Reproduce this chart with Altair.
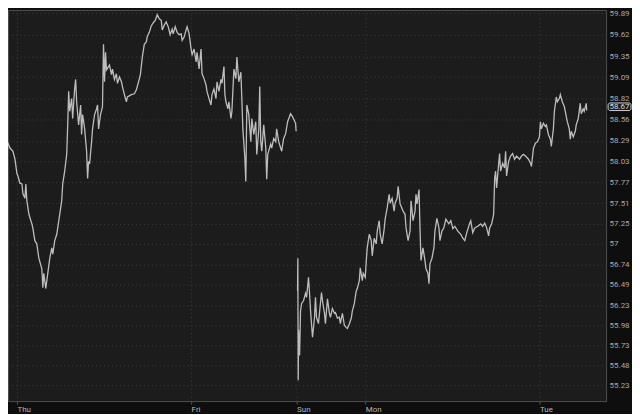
import altair as alt
import pandas as pd

# Session hours (Thu 00:00 = 0, weekend gap removed) and prices
thu_fri_hours = [-2.33, -1.92, -1.65, -1.37, -1.23, -0.96, -0.55, -0.27, 0.00, 0.14, 0.41, 0.69, 0.82, 1.10, 1.23, 1.37,
                 1.65, 2.06, 2.19, 2.47, 2.74, 3.02, 3.43, 3.57, 3.70, 3.98, 4.25, 4.53, 4.80, 4.94, 5.21, 5.49, 5.62,
                 5.90, 6.17, 6.31, 6.58, 6.86, 6.99, 7.13, 7.27, 7.54, 7.68, 7.95, 8.09, 8.23, 8.50, 8.78, 8.91, 9.05,
                 9.33, 9.60, 9.74, 9.87, 10.01, 10.29, 10.42, 10.70, 10.97, 11.11, 11.25, 11.52, 11.79, 11.93, 12.07,
                 12.21, 12.34, 12.75, 13.03, 13.17, 13.44, 13.71, 13.85, 14.13, 14.40, 14.54, 14.81, 15.09, 15.22,
                 15.77, 16.18, 16.46, 16.73, 17.01, 17.28, 17.55, 17.83, 17.97, 18.24, 18.51, 18.79, 19.06, 19.34,
                 19.61, 19.89, 20.02, 20.30, 20.57, 20.85, 21.12, 21.39, 21.53, 21.81, 22.08, 22.35, 22.63, 22.77,
                 23.04, 23.31, 23.45, 23.73, 24.00, 24.14, 24.41, 24.69, 24.82, 25.10, 25.37, 25.51, 25.78, 26.06,
                 26.19, 26.47, 26.74, 26.88, 27.15, 27.43, 27.57, 27.84, 28.11, 28.25, 28.53, 28.66, 28.80, 29.07,
                 29.21, 29.49, 29.62, 29.90, 30.17, 30.31, 30.58, 30.86, 30.99, 31.13, 31.41, 31.54, 31.68, 31.95,
                 32.23, 32.37, 32.64, 32.91, 33.05, 33.33, 33.46, 33.60, 33.74, 34.01, 34.29, 34.42, 34.56, 34.97,
                 35.11, 35.38, 35.66, 35.79, 36.07, 36.34, 36.48, 36.75, 37.03, 37.30, 37.71, 37.99, 38.40, 38.47]
thu_fri_prices = [58.16, 58.20, 58.30, 58.22, 58.26, 58.20, 58.16, 58.06, 57.88, 57.85, 57.76, 57.75, 57.63, 57.57,
                  57.75, 57.54, 57.37, 57.25, 57.20, 57.04, 57.00, 56.82, 56.69, 56.45, 56.63, 56.44, 56.63, 56.82,
                  56.95, 56.87, 57.04, 57.12, 57.20, 57.37, 57.54, 57.75, 57.91, 58.12, 58.47, 58.91, 58.66, 58.82,
                  58.57, 58.94, 59.06, 58.78, 58.49, 58.74, 58.37, 58.62, 58.44, 58.16, 57.82, 58.03, 58.00, 58.28,
                  58.44, 58.62, 58.69, 58.74, 58.44, 58.62, 58.72, 59.50, 59.03, 59.40, 59.18, 59.24, 59.12, 59.19,
                  59.06, 59.13, 59.01, 59.09, 59.03, 58.97, 58.87, 58.78, 58.84, 58.87, 58.88, 58.93, 59.02, 59.12,
                  59.34, 59.50, 59.53, 59.60, 59.65, 59.73, 59.77, 59.80, 59.87, 59.82, 59.80, 59.68, 59.74, 59.78,
                  59.72, 59.62, 59.69, 59.63, 59.72, 59.65, 59.62, 59.63, 59.55, 59.59, 59.68, 59.72, 59.63, 59.44,
                  59.37, 59.44, 59.28, 59.40, 59.19, 59.44, 59.13, 59.07, 58.99, 58.91, 58.82, 58.74, 58.87, 58.94,
                  58.82, 59.03, 58.91, 59.06, 59.01, 59.22, 58.87, 58.78, 58.69, 58.78, 58.57, 58.66, 59.19, 59.07,
                  59.34, 59.03, 59.15, 58.82, 58.44, 58.07, 57.78, 58.74, 58.62, 58.28, 58.57, 58.37, 58.53, 58.12,
                  58.44, 58.97, 58.28, 58.16, 58.49, 58.20, 57.81, 58.12, 58.25, 58.20, 58.32, 58.28, 58.44, 58.28,
                  58.20, 58.16, 58.32, 58.38, 58.53, 58.63, 58.59, 58.51, 58.41]

sun_tue_hours = [38.67, 38.71, 38.76, 38.81, 38.95, 39.08, 39.22, 39.50, 39.77, 39.91, 40.18, 40.32, 40.46, 40.73,
                 41.01, 41.14, 41.28, 41.55, 41.69, 41.97, 42.10, 42.38, 42.51, 42.79, 43.06, 43.20, 43.47, 43.75,
                 43.89, 44.16, 44.43, 44.57, 44.85, 45.12, 45.39, 45.53, 45.81, 46.08, 46.22, 46.49, 46.76, 46.90,
                 47.18, 47.31, 47.59, 47.72, 48.00, 48.14, 48.27, 48.55, 48.82, 48.96, 49.23, 49.51, 49.65, 49.92,
                 50.06, 50.33, 50.61, 50.74, 51.02, 51.29, 51.43, 51.70, 51.98, 52.11, 52.39, 52.53, 52.80, 52.94,
                 53.21, 53.48, 53.62, 53.90, 54.17, 54.31, 54.58, 54.86, 54.99, 55.13, 55.41, 55.54, 55.68, 55.95,
                 56.23, 56.36, 56.64, 56.78, 56.91, 57.19, 57.46, 57.60, 57.87, 58.15, 58.29, 58.56, 58.83, 59.11,
                 59.52, 59.79, 60.07, 60.34, 60.75, 61.16, 61.44, 61.71, 61.99, 62.40, 62.54, 62.81, 63.09, 63.50,
                 63.91, 64.18, 64.46, 64.73, 65.00, 65.14, 65.42, 65.69, 65.83, 65.96, 66.10, 66.38, 66.51, 66.65,
                 66.93, 67.20, 67.34, 67.47, 67.75, 68.02, 68.30, 68.57, 68.85, 69.26, 69.53, 69.81, 70.08, 70.49,
                 70.77, 70.90, 71.18, 71.45, 71.73, 72.00, 72.14, 72.27, 72.55, 72.82, 72.96, 73.23, 73.51, 73.64,
                 73.92, 74.06, 74.33, 74.47, 74.74, 74.88, 75.15, 75.43, 75.56, 75.84, 76.11, 76.25, 76.39, 76.66,
                 76.94, 77.07, 77.35, 77.62, 77.76, 78.03, 78.17, 78.45, 78.51]
sun_tue_prices = [56.41, 56.82, 55.29, 55.92, 55.60, 56.16, 56.25, 56.29, 56.38, 56.33, 56.58, 56.38, 56.16, 55.83,
                  56.08, 56.33, 56.08, 56.00, 56.13, 56.39, 56.29, 56.13, 56.00, 56.31, 56.13, 56.08, 56.19, 56.13,
                  56.14, 56.07, 56.08, 56.00, 56.13, 55.98, 55.95, 55.94, 56.00, 56.07, 56.16, 56.25, 56.41, 56.44,
                  56.54, 56.70, 56.54, 56.63, 56.58, 56.79, 56.95, 57.12, 57.04, 56.85, 57.07, 57.00, 57.16, 57.29,
                  57.12, 57.00, 57.19, 57.31, 57.45, 57.62, 57.51, 57.57, 57.41, 57.51, 57.57, 57.72, 57.50, 57.47,
                  57.41, 57.37, 57.20, 57.04, 57.16, 57.54, 57.29, 57.41, 57.62, 57.50, 57.68, 57.20, 56.79, 56.95,
                  56.79, 56.69, 56.63, 56.50, 56.75, 56.82, 56.95, 57.16, 57.32, 57.20, 57.04, 57.16, 57.20, 57.31,
                  57.25, 57.29, 57.19, 57.22, 57.16, 57.12, 57.07, 57.04, 57.14, 57.26, 57.29, 57.14, 57.20, 57.22,
                  57.25, 57.22, 57.26, 57.20, 57.10, 57.20, 57.25, 57.37, 57.82, 57.91, 57.70, 58.00, 58.13, 57.91,
                  58.01, 57.95, 58.16, 57.85, 58.03, 58.10, 58.13, 58.06, 58.10, 58.06, 58.10, 58.12, 58.10, 58.06,
                  58.01, 57.97, 58.20, 58.26, 58.28, 58.34, 58.53, 58.44, 58.51, 58.47, 58.49, 58.37, 58.31, 58.22,
                  58.44, 58.66, 58.84, 58.78, 58.82, 58.87, 58.78, 58.72, 58.66, 58.53, 58.44, 58.31, 58.41, 58.34,
                  58.41, 58.49, 58.57, 58.76, 58.63, 58.69, 58.66, 58.76, 58.67]

price_ticks = [55.23, 55.48, 55.73, 55.98, 56.23, 56.49, 56.74, 57.00, 57.25, 57.51, 57.77, 58.03,
               58.29, 58.56, 58.82, 59.09, 59.35, 59.62, 59.89]
day_ticks = [0, 24, 38.54, 48, 72]
day_names = ["Thu", "Fri", "Sun", "Mon", "Tue"]
last_price = [58.67]

W, H = 601, 393
x_domain = [-1.23, 81.19]
y_domain = [55.03, 59.93]

df = pd.concat([
    pd.DataFrame({"t": thu_fri_hours, "price": thu_fri_prices, "seg": "A"}),
    pd.DataFrame({"t": sun_tue_hours, "price": sun_tue_prices, "seg": "B"}),
])

label_expr = " : ".join(
    f"abs(datum.value - {v}) < 0.01 ? '{n}'" for v, n in zip(day_ticks, day_names)
) + " : ''"

x_enc = alt.X("t:Q", scale=alt.Scale(domain=x_domain, nice=False, zero=False),
              axis=alt.Axis(values=day_ticks, labelExpr=label_expr, title=None, orient="bottom",
                            grid=True, gridColor="#3e3e3e", gridDash=[1, 3], domain=False,
                            ticks=True, tickSize=3, tickColor="#555555", labelAlign="left",
                            labelPadding=1, labelColor="#b5b5b5", labelFontSize=8, labelFont="Roboto",
                            labelOverlap=False))
y_enc = alt.Y("price:Q", scale=alt.Scale(domain=y_domain, nice=False, zero=False),
              axis=alt.Axis(values=price_ticks, format=".2~f", title=None, orient="right",
                            grid=True, gridColor="#3e3e3e", gridDash=[1, 3], domain=False,
                            ticks=False, labelPadding=3, labelColor="#a9a9a9", labelFontSize=8,
                            labelFont="Roboto", labelBaseline="middle", labelOverlap=False,
                            labelFlush=False))

line = alt.Chart(df).mark_line(color="#bdbdbd", strokeWidth=1.3, clip=True).encode(
    x=x_enc, y=y_enc, detail="seg:N"
)

lp = pd.DataFrame({"price": last_price})
box = alt.Chart(lp).transform_calculate(
    hi="datum.price + 0.095", lo="datum.price + 0.0"
).mark_rect(fill="#1c1c1c", stroke="#d0d0d0", strokeWidth=1, cornerRadius=2).encode(
    x=alt.value(W + 2), x2=alt.value(W + 25),
    y=alt.Y("hi:Q", scale=alt.Scale(domain=y_domain, nice=False, zero=False), axis=None),
    y2="lo:Q",
)
box_text = alt.Chart(lp).mark_text(align="center", baseline="middle", color="#d8d8d8",
                                   fontSize=8, font="Roboto", dy=-3.5).encode(
    x=alt.value(W + 13.5),
    y=alt.Y("price:Q", scale=alt.Scale(domain=y_domain, nice=False, zero=False), axis=None),
    text=alt.Text("price:Q", format=".2f"),
)

label = alt.layer(box, box_text)

chart = alt.layer(line, label).resolve_scale(y="independent").resolve_axis(y="independent").properties(
    width=W, height=H, padding=0, background="#0e0e0e"
).configure_view(
    fill="#1c1c1c", stroke="#505050", strokeWidth=1
)

chart.save("out.html", embed_options={"renderer": "svg", "actions": False})
